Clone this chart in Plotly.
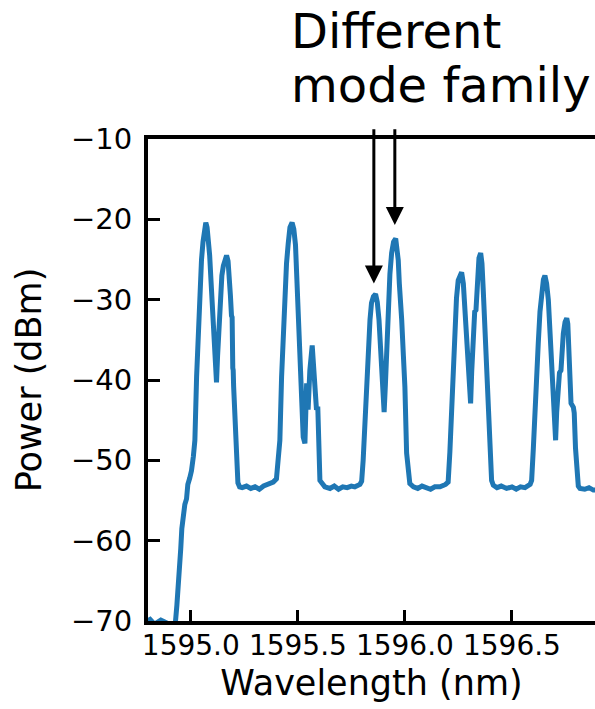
import plotly.graph_objects as go

# Spectrum (wavelength in nm, power in dBm)
wavelength = [
    1594.78, 1594.81, 1594.83, 1594.86, 1594.90, 1594.928, 1594.935, 1594.940, 1594.946, 1594.953, 1594.958,
    1594.964, 1594.972, 1594.980, 1594.986, 1594.995, 1595.003, 1595.012, 1595.019, 1595.027, 1595.035,
    1595.042, 1595.050, 1595.057, 1595.064, 1595.070, 1595.076, 1595.082, 1595.088, 1595.094, 1595.101,
    1595.110, 1595.116, 1595.120, 1595.125, 1595.131, 1595.136, 1595.140, 1595.145, 1595.152, 1595.160,
    1595.167, 1595.174, 1595.180, 1595.185, 1595.190, 1595.193, 1595.196, 1595.198, 1595.200, 1595.206,
    1595.214, 1595.220, 1595.228, 1595.24, 1595.26, 1595.28, 1595.30, 1595.32, 1595.34, 1595.36,
    1595.385, 1595.400, 1595.408, 1595.416, 1595.424, 1595.432, 1595.439, 1595.447, 1595.455, 1595.463,
    1595.473, 1595.481, 1595.489, 1595.495, 1595.501, 1595.509, 1595.517, 1595.522, 1595.525, 1595.533,
    1595.541, 1595.548, 1595.556, 1595.567, 1595.576, 1595.583, 1595.587, 1595.593, 1595.596, 1595.603,
    1595.626, 1595.65, 1595.67, 1595.69, 1595.71, 1595.73, 1595.75, 1595.766, 1595.790, 1595.798,
    1595.805, 1595.813, 1595.821, 1595.829, 1595.837, 1595.844, 1595.853, 1595.863, 1595.871, 1595.879,
    1595.885, 1595.891, 1595.897, 1595.903, 1595.909, 1595.915, 1595.922, 1595.930, 1595.938, 1595.947,
    1595.957, 1595.964, 1595.969, 1595.974, 1595.977, 1595.983, 1595.985, 1595.993, 1596.000, 1596.008,
    1596.016, 1596.023, 1596.04, 1596.06, 1596.08, 1596.10, 1596.12, 1596.14, 1596.164, 1596.190,
    1596.202, 1596.210, 1596.218, 1596.226, 1596.234, 1596.241, 1596.249, 1596.257, 1596.265, 1596.273,
    1596.280, 1596.288, 1596.296, 1596.302, 1596.307, 1596.312, 1596.317, 1596.321, 1596.326, 1596.332,
    1596.338, 1596.346, 1596.354, 1596.360, 1596.366, 1596.374, 1596.382, 1596.390, 1596.397, 1596.405,
    1596.413, 1596.43, 1596.45, 1596.475, 1596.50, 1596.52, 1596.54, 1596.561, 1596.585, 1596.592,
    1596.600, 1596.607, 1596.615, 1596.623, 1596.631, 1596.639, 1596.647, 1596.654, 1596.662, 1596.670,
    1596.678, 1596.686, 1596.695, 1596.704, 1596.709, 1596.714, 1596.718, 1596.722, 1596.729, 1596.735,
    1596.740, 1596.748, 1596.756, 1596.761, 1596.766, 1596.771, 1596.776, 1596.787, 1596.791, 1596.797,
    1596.803, 1596.810, 1596.818, 1596.84, 1596.86, 1596.88, 1596.92,
]
power = [
    -70.3, -69.8, -70.4, -69.9, -70.4, -70.2, -68.0, -66.5, -64.0, -61.0, -58.5,
    -56.5, -55.5, -54.8, -53.0, -52.2, -51.3, -49.5, -47.5, -39.6, -33.0,
    -29.0, -25.0, -22.8, -21.0, -20.4, -21.0, -22.5, -24.5, -27.5, -31.3,
    -36.0, -39.0, -40.3, -37.0, -33.5, -31.0, -28.0, -27.0, -25.8, -24.8,
    -24.5, -25.2, -27.0, -29.5, -32.0, -32.2, -38.5, -38.8, -40.8, -45.9,
    -51.0, -52.8, -53.3, -53.4, -53.2, -53.5, -53.3, -53.6, -53.2, -53.0,
    -52.7, -52.3, -50.5, -47.5, -39.6, -33.5, -29.2, -25.5, -23.0, -21.0,
    -20.4, -21.2, -23.2, -27.0, -31.3, -36.5, -41.6, -45.5, -47.1, -47.9,
    -40.4, -43.7, -38.8, -35.7, -39.6, -42.5, -43.7, -43.3, -49.4, -52.5,
    -53.3, -53.5, -53.2, -53.6, -53.3, -53.4, -53.2, -53.3, -53.0, -52.6,
    -50.0, -45.0, -40.0, -35.9, -32.5, -30.4, -29.6, -29.3, -30.3, -32.5,
    -35.5, -38.8, -41.8, -44.0, -40.5, -36.7, -30.4, -26.8, -24.2, -22.8,
    -22.4, -23.5, -25.1, -28.0, -30.4, -32.0, -32.5, -37.0, -40.9, -49.1,
    -52.0, -52.9, -53.3, -53.5, -53.2, -53.4, -53.6, -53.3, -53.3, -53.0,
    -52.7, -49.0, -43.4, -37.5, -32.9, -29.8, -27.6, -26.8, -26.6, -28.0,
    -30.9, -35.0, -39.1, -41.5, -42.9, -39.0, -35.0, -32.0, -31.5, -31.3,
    -26.7, -24.8, -24.2, -25.5, -28.8, -33.5, -39.1, -44.5, -49.6, -52.5,
    -53.1, -53.4, -53.2, -53.5, -53.3, -53.6, -53.3, -53.4, -53.0, -52.5,
    -48.5, -43.7, -39.0, -35.4, -31.5, -29.2, -27.5, -27.0, -28.0, -30.0,
    -34.5, -39.6, -44.0, -47.5, -44.0, -41.6, -40.5, -39.1, -38.8, -36.0,
    -34.2, -32.8, -32.3, -33.0, -35.4, -39.5, -42.9, -43.4, -44.1, -48.5,
    -52.1, -53.2, -53.5, -53.6, -53.4, -53.7, -53.6,
]

x_ticks = [1595.0, 1595.5, 1596.0, 1596.5]
x_tick_labels = ["1595.0", "1595.5", "1596.0", "1596.5"]
x_range = [1594.8, 1596.888]
y_range = [-70, -10]

# Arrows pointing at the different mode family (tip wavelength, tip power)
arrow_wl = [1595.855, 1595.953]
arrow_tip = [-28.0, -20.7]
arrow_tail = -8.6
label_lines = ["Different", "mode family"]

FONT = "DejaVu Sans"
BLUE = "#1f77b4"

fig = go.Figure()
fig.add_trace(go.Scatter(
    x=wavelength, y=power, mode="lines",
    line=dict(color=BLUE, width=5), showlegend=False,
))

for wl, tip in zip(arrow_wl, arrow_tip):
    fig.add_annotation(
        x=wl, y=tip, ax=wl, ay=arrow_tail,
        xref="x", yref="y", axref="x", ayref="y",
        text="", showarrow=True, arrowhead=2, arrowsize=1.2,
        arrowwidth=3, arrowcolor="black",
    )

fig.add_annotation(x=1595.459, y=1.224, xref="x", yref="paper", text=label_lines[0],
                   showarrow=False, xanchor="left", yanchor="middle",
                   font=dict(family=FONT, size=48, color="black"))
fig.add_annotation(x=1595.459, y=1.112, xref="x", yref="paper", text=label_lines[1],
                   showarrow=False, xanchor="left", yanchor="middle",
                   font=dict(family=FONT, size=48, color="black"))

fig.update_layout(
    width=595, height=709,
    margin=dict(l=148, r=0, t=139, b=88, pad=0),
    paper_bgcolor="white", plot_bgcolor="white",
    font=dict(family=FONT, color="black"),
    xaxis=dict(
        range=x_range, tickvals=x_ticks, ticktext=x_tick_labels,
        ticks="inside", ticklen=11, tickwidth=3, tickcolor="black",
        showline=True, linewidth=4, linecolor="black", mirror=True,
        showgrid=False, zeroline=False,
        tickfont=dict(family=FONT, size=28, color="black"),
        ticklabelstandoff=-4,
        title=dict(text="Wavelength (nm)", font=dict(family=FONT, size=35, color="black"), standoff=11),
    ),
    yaxis=dict(
        range=y_range, dtick=10, tick0=-70,
        ticks="inside", ticklen=12, tickwidth=3, tickcolor="black",
        showline=True, linewidth=4, linecolor="black", mirror=False,
        showgrid=False, zeroline=False,
        tickfont=dict(family=FONT, size=29, color="black"),
        ticklabelstandoff=6,
        title=dict(text="Power (dBm)", font=dict(family=FONT, size=35, color="black"), standoff=20),
    ),
)

fig.write_html("out.html")
